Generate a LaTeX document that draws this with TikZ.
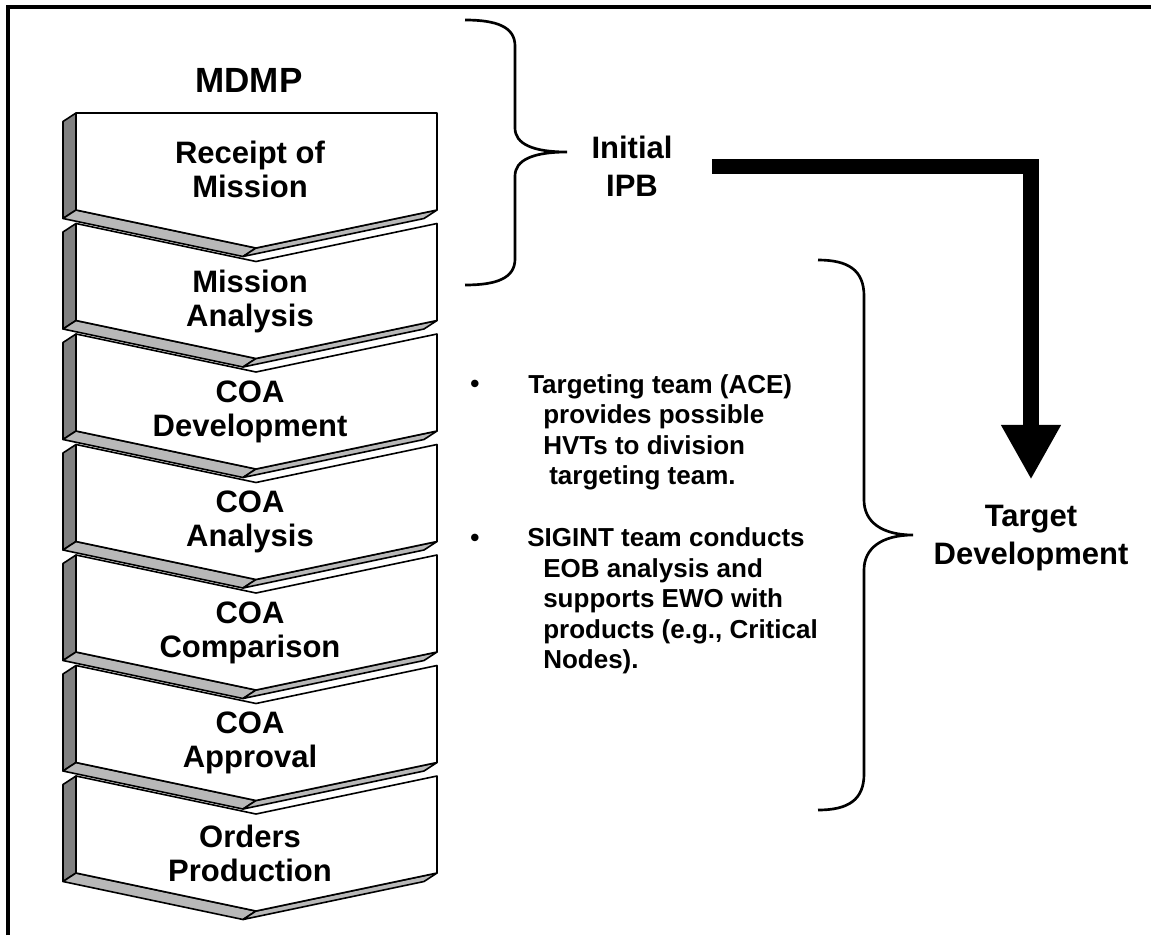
\documentclass[tikz,border=0pt]{standalone}
\usepackage{fontspec}
\setmainfont{Liberation Sans}
\usetikzlibrary{arrows.meta}
\definecolor{sidegray}{gray}{0.5}
\definecolor{bottomgray}{gray}{0.72}
\begin{document}
\begin{tikzpicture}
[x=0.75pt, y=-0.75pt,
 stagetext/.style={font=\bfseries\fontsize{23.25}{25.5}\selectfont, align=center},
 headtext/.style={font=\bfseries\fontsize{23.25}{28.5}\selectfont, align=center},
 itemtext/.style={font=\bfseries\fontsize{19.5}{22.9}\selectfont, align=left, inner sep=0pt},
 face/.style={draw, line width=1.2pt, line join=round},
 bracepath/.style={line width=2pt},
 bigarrow/.style={line width=11.6pt, -{Triangle[width=42pt,length=41pt]}}]
\useasboundingbox (0,0) rectangle (1151,935);
\draw [line width=2.6pt] (8,935) -- (8,7) -- (1151,7);
\node [font=\bfseries\fontsize{26.25}{30}\selectfont] (mdmp) at (249,80) {MDMP};
\foreach \i/\lbl in {0/{Receipt of\\Mission}, 1/{Mission\\Analysis}, 2/{COA\\Development}, 3/{COA\\Analysis}, 4/{COA\\Comparison}, 5/{COA\\Approval}, 6/{Orders\\Production}}
{
\pgfmathsetmacro\y{113+110.5*\i}
\pgfmathsetmacro\yb{\y+97}
\pgfmathsetmacro\dn{(\i>0)*38}
\pgfmathsetmacro\ty{\y+56+21.5*(\i>0)}
\filldraw [face, fill=sidegray] (76,\y) -- (63,\y+8.5) -- (63,\yb+8.5) -- (76,\yb) -- cycle;
\filldraw [face, fill=bottomgray] (76,\yb) -- (256,\yb+38) -- (243,\yb+46.5) -- (63,\yb+8.5) -- cycle;
\filldraw [face, fill=bottomgray] (256,\yb+38) -- (437,\yb) -- (424,\yb+8.5) -- (243,\yb+46.5) -- cycle;
\filldraw [face, fill=white] (76,\y) -- (256,\y+\dn) -- (437,\y) -- (437,\yb) -- (256,\yb+38) -- (76,\yb) -- cycle;
\node [stagetext] (stage\i) at (250,\ty) {\lbl};
}
\draw [bracepath] (465,20) .. controls (497,20) and (515,27) .. (515,46) -- (515,128) .. controls (515,144) and (533,152) .. (567,152) .. controls (533,152) and (515,160) .. (515,176) -- (515,259) .. controls (515,278) and (497,285) .. (465,285);
\draw [bracepath] (818,260) .. controls (848,260) and (864,270) .. (864,296) -- (864,500) .. controls (864,522) and (882,535) .. (913,535) .. controls (882,535) and (864,548) .. (864,570) -- (864,774) .. controls (864,800) and (848,810) .. (818,810);
\node [headtext] (ipb) at (632,166.5) {Initial\\IPB};
\node [headtext] (tgt) at (1031,538.5) {Target\\Development};
\draw [bigarrow, shorten <=26pt, shorten >=16pt] (ipb.east) -| (tgt.north);
\node [itemtext, anchor=base] (dotA) at (475,392.7) {•};
\node [itemtext, anchor=north west] (itemA) at (528,374) {Targeting team (ACE)\\\hspace*{11.25pt}provides possible\\\hspace*{11.25pt}HVTs to division\\\hspace*{15.75pt}targeting team.};
\node [itemtext, anchor=base] (dotB) at (475,546) {•};
\node [itemtext, anchor=north west] (itemB) at (527,527.5) {SIGINT team conducts\\\hspace*{12pt}EOB analysis and\\\hspace*{12pt}supports EWO with\\\hspace*{12pt}products (e.g., Critical\\\hspace*{12pt}Nodes).};
\end{tikzpicture}
\end{document}
